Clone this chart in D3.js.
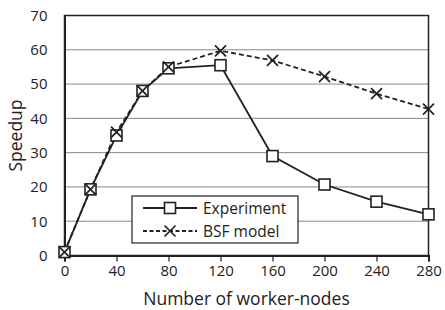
<!DOCTYPE html>
<html><head><meta charset="utf-8">
<script src="https://cdn.jsdelivr.net/npm/d3@7"></script>
<style>body{margin:0;background:#fff}svg{display:block}text{font-family:"Open Sans",sans-serif;fill:#222}</style>
</head><body><svg id="c" width="445" height="310"></svg>
<script>
const nodes = [0, 20, 40, 60, 80, 120, 160, 200, 240, 280];
const experiment = [1, 19.3, 35, 48, 54.6, 55.5, 29, 20.7, 15.7, 12];
const bsfModel = [1, 19.3, 36, 48, 55, 59.7, 56.9, 52.2, 47.2, 42.7];
const xTicks = [0, 40, 80, 120, 160, 200, 240, 280];
const yTicks = [0, 10, 20, 30, 40, 50, 60, 70];
const seriesNames = ["Experiment", "BSF model"];

const svg = d3.select("#c");
const x = d3.scaleLinear().domain([0, 280]).range([64.5, 428.5]);
const y = d3.scaleLinear().domain([0, 70]).range([255.5, 15.5]);

// grid
svg.append("g").selectAll("line").data(yTicks.filter(d => d > 0 && d < 70)).join("line")
  .attr("x1", x(0)).attr("x2", x(280)).attr("y1", d => y(d)).attr("y2", d => y(d))
  .attr("stroke", "#888").attr("stroke-width", 1);

// frame
svg.append("rect").attr("x", x(0)).attr("y", y(70)).attr("width", x(280) - x(0)).attr("height", y(0) - y(70))
  .attr("fill", "none").attr("stroke", "#222").attr("stroke-width", 1.5);

// x axis
const xa = svg.append("g").attr("transform", `translate(0,${y(0)})`)
  .call(d3.axisBottom(x).tickValues(xTicks).tickSize(6).tickPadding(4));
xa.select(".domain").attr("stroke", "#222").attr("stroke-width", 2);
xa.selectAll(".tick line").attr("stroke", "#222").attr("stroke-width", 1.2);
xa.selectAll("text").attr("font-size", "15px").attr("font-family", "Open Sans").attr("fill", "#222");

// y axis
const ya = svg.append("g").attr("transform", `translate(${x(0)},0)`)
  .call(d3.axisLeft(y).tickValues(yTicks).tickSize(0).tickPadding(17));
ya.select(".domain").attr("stroke", "#222").attr("stroke-width", 2);
ya.selectAll("text").attr("font-size", "15px").attr("font-family", "Open Sans").attr("fill", "#222");

// titles
svg.append("text").attr("x", x(140)).attr("y", 305).attr("text-anchor", "middle")
  .attr("font-size", "17.5px").text("Number of worker-nodes");
svg.append("text").attr("transform", `translate(22,${y(35)}) rotate(-90)`).attr("text-anchor", "middle")
  .attr("font-size", "17.5px").text("Speedup");

const line = d3.line().x((d, i) => x(nodes[i])).y(d => y(d));

// BSF model
svg.append("path").datum(bsfModel).attr("d", line).attr("fill", "none")
  .attr("stroke", "#222").attr("stroke-width", 1.8).attr("stroke-dasharray", "5,3");
// Experiment
svg.append("path").datum(experiment).attr("d", line).attr("fill", "none")
  .attr("stroke", "#222").attr("stroke-width", 1.8);

function square(g, cx, cy) {
  g.append("rect").attr("x", cx - 5.5).attr("y", cy - 5.5).attr("width", 11).attr("height", 11)
    .attr("fill", "#fff").attr("stroke", "#222").attr("stroke-width", 1.6);
}
function cross(g, cx, cy) {
  const s = 5.5;
  g.append("path").attr("d", `M${cx - s},${cy - s}L${cx + s},${cy + s}M${cx - s},${cy + s}L${cx + s},${cy - s}`)
    .attr("stroke", "#222").attr("stroke-width", 1.7).attr("fill", "none");
}
const mk = svg.append("g");
experiment.forEach((v, i) => square(mk, x(nodes[i]), y(v)));
bsfModel.forEach((v, i) => cross(mk, x(nodes[i]), y(v)));

// legend
const lg = svg.append("g");
lg.append("rect").attr("x", 132).attr("y", 196).attr("width", 166).attr("height", 47)
  .attr("fill", "#fff").attr("stroke", "#222").attr("stroke-width", 1.2);
lg.append("line").attr("x1", 143).attr("x2", 197).attr("y1", 208).attr("y2", 208).attr("stroke", "#222").attr("stroke-width", 1.8);
square(lg, 170, 208);
lg.append("line").attr("x1", 143).attr("x2", 197).attr("y1", 231).attr("y2", 231).attr("stroke", "#222").attr("stroke-width", 1.8).attr("stroke-dasharray", "4,2.5");
cross(lg, 170, 231);
lg.append("text").attr("x", 203).attr("y", 213.5).attr("font-size", "15.5px").text(seriesNames[0]);
lg.append("text").attr("x", 203).attr("y", 236.5).attr("font-size", "15.5px").text(seriesNames[1]);
</script></body></html>
